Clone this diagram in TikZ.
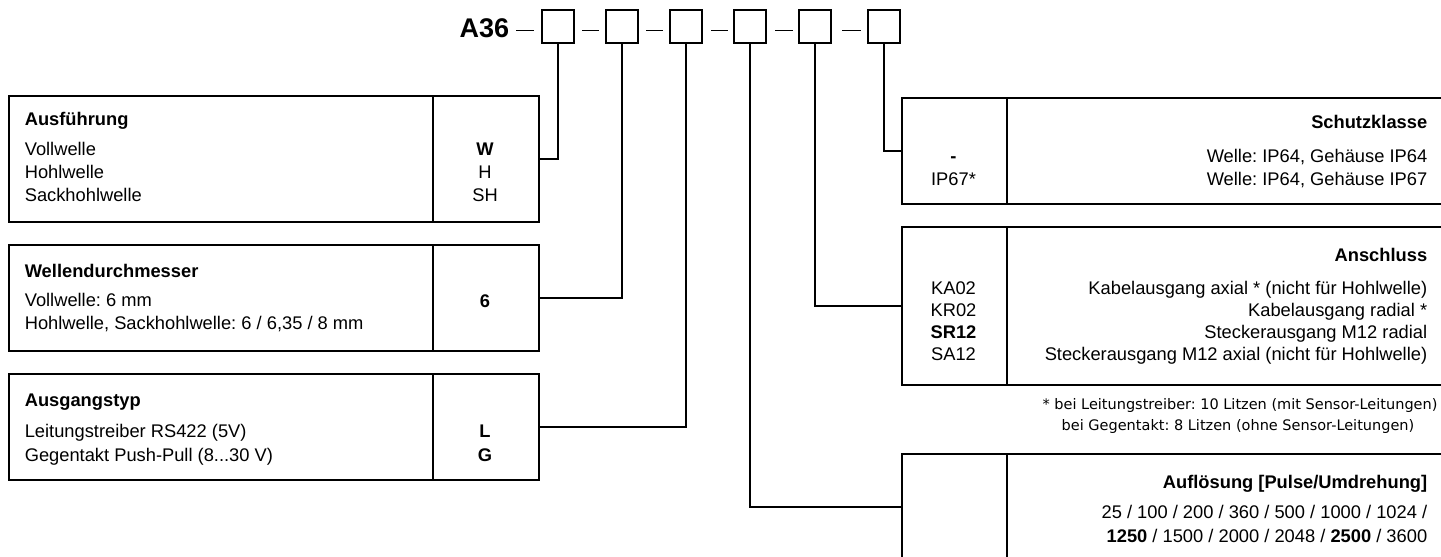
\documentclass[tikz,border=0pt]{standalone}
\usepackage{fontspec}
\setmainfont{Liberation Sans}
\newfontfamily\fnfont{DejaVu Sans}
\newcommand{\mysize}{\fontsize{18.3}{22}\selectfont}
\frenchspacing
\begin{document}
\begin{tikzpicture}[x=1pt,y=-1pt,line width=1.6pt,
  codebox/.style={draw,minimum width=32pt,minimum height=33pt,inner sep=0pt},
  cell/.style={draw,inner sep=0pt,anchor=north west},
  lt/.style={inner sep=0pt,anchor=base west,font=\mysize},
  rt/.style={inner sep=0pt,anchor=base east,font=\mysize},
  ct/.style={inner sep=0pt,anchor=base,font=\mysize},
  fn/.style={inner sep=0pt,anchor=base,font=\fnfont\fontsize{14.5}{17}\selectfont},
  conn/.style={line width=1.5pt}]
\useasboundingbox (0,0) rectangle (1441,557);

% code line
\node[inner sep=0pt,anchor=base east,font=\bfseries\fontsize{27}{27}\selectfont] (a36) at (510,37) {A36};
\node[codebox] (b1) at (558,26.5) {};
\node[codebox] (b2) at (622,26.5) {};
\node[codebox] (b3) at (686,26.5) {};
\node[codebox] (b4) at (750,26.5) {};
\node[codebox] (b5) at (815,26.5) {};
\node[codebox] (b6) at (884,26.5) {};
\foreach \xa/\xb in {516/534,582/599,646/663,711/728,775/793,842/861}
  \draw[line width=1.3pt] (\xa,30.5) -- (\xb,30.5);

% left tables
\node[cell,minimum width=424pt,minimum height=126pt] (t1) at (8,95) {};
\node[cell,minimum width=106pt,minimum height=126pt] (v1) at (432,95) {};
\node[cell,minimum width=424pt,minimum height=106pt] (t2) at (8,244) {};
\node[cell,minimum width=106pt,minimum height=106pt] (v2) at (432,244) {};
\node[cell,minimum width=424pt,minimum height=106pt] (t3) at (8,373) {};
\node[cell,minimum width=106pt,minimum height=106pt] (v3) at (432,373) {};

\node[lt,font=\mysize\bfseries] (h1) at (24,125) {Ausführung};
\node[lt] (r11) at (24,155) {Vollwelle};
\node[lt] (r12) at (24,178) {Hohlwelle};
\node[lt] (r13) at (24,201) {Sackhohlwelle};
\node[ct,font=\mysize\bfseries] (c11) at (485,155) {W};
\node[ct] (c12) at (485,178) {H};
\node[ct] (c13) at (485,201) {SH};

\node[lt,font=\mysize\bfseries] (h2) at (24,277) {Wellendurchmesser};
\node[lt] (r21) at (24,306) {Vollwelle: 6 mm};
\node[lt] (r22) at (24,329) {Hohlwelle, Sackhohlwelle: 6 / 6,35 / 8 mm};
\node[ct,font=\mysize\bfseries] (c21) at (485,307) {6};

\node[lt,font=\mysize\bfseries] (h3) at (24,406) {Ausgangstyp};
\node[lt] (r31) at (24,437) {Leitungstreiber RS422 (5V)};
\node[lt] (r32) at (24,461) {Gegentakt Push-Pull (8...30 V)};
\node[ct,font=\mysize\bfseries] (c31) at (485,437) {L};
\node[ct,font=\mysize\bfseries] (c32) at (485,461) {G};

% right tables
\node[cell,minimum width=105pt,minimum height=106pt] (v6) at (901,97) {};
\node[cell,minimum width=445pt,minimum height=106pt] (t6) at (1006,97) {};
\node[cell,minimum width=105pt,minimum height=158pt] (v5) at (901,226) {};
\node[cell,minimum width=445pt,minimum height=158pt] (t5) at (1006,226) {};
\node[cell,minimum width=105pt,minimum height=106pt] (v4) at (901,453) {};
\node[cell,minimum width=445pt,minimum height=106pt] (t4) at (1006,453) {};

\node[rt,font=\mysize\bfseries] (h6) at (1428,128) {Schutzklasse};
\node[rt] (r61) at (1428,162) {Welle: IP64, Gehäuse IP64};
\node[rt] (r62) at (1428,185) {Welle: IP64, Gehäuse IP67};
\node[ct,font=\mysize\bfseries] (c61) at (953.5,162) {-};
\node[ct] (c62) at (953.5,185) {IP67*};

\node[rt,font=\mysize\bfseries] (h5) at (1428,261) {Anschluss};
\node[rt] (r51) at (1428,294) {Kabelausgang axial * (nicht für Hohlwelle)};
\node[rt] (r52) at (1428,316) {Kabelausgang radial *};
\node[rt] (r53) at (1428,338) {Steckerausgang M12 radial};
\node[rt] (r54) at (1428,360) {Steckerausgang M12 axial (nicht für Hohlwelle)};
\node[ct] (c51) at (953.5,294) {KA02};
\node[ct] (c52) at (953.5,316) {KR02};
\node[ct,font=\mysize\bfseries] (c53) at (953.5,338) {SR12};
\node[ct] (c54) at (953.5,360) {SA12};

\node[fn] (f1) at (1240,409) {* bei Leitungstreiber: 10 Litzen (mit Sensor-Leitungen)};
\node[fn] (f2) at (1238,430) {bei Gegentakt: 8 Litzen (ohne Sensor-Leitungen)};

\node[rt,font=\mysize\bfseries] (h4) at (1428,488) {Auflösung [Pulse/Umdrehung]};
\node[rt] (r41) at (1428,518) {25 / 100 / 200 / 360 / 500 / 1000 / 1024 /};
\node[rt] (r42) at (1428,542) {\textbf{1250} / 1500 / 2000 / 2048 / \textbf{2500} / 3600};

% connectors
\draw[conn] (b1.south) |- (v1.east);
\draw[conn] (b2.south) |- (v2.east);
\draw[conn] (b3.south) |- (v3.east);
\draw[conn] (b4.south) |- (v4.west);
\draw[conn] (b5.south) |- (v5.west);
\draw[conn] (b6.south) |- (v6.west);
\end{tikzpicture}
\end{document}
